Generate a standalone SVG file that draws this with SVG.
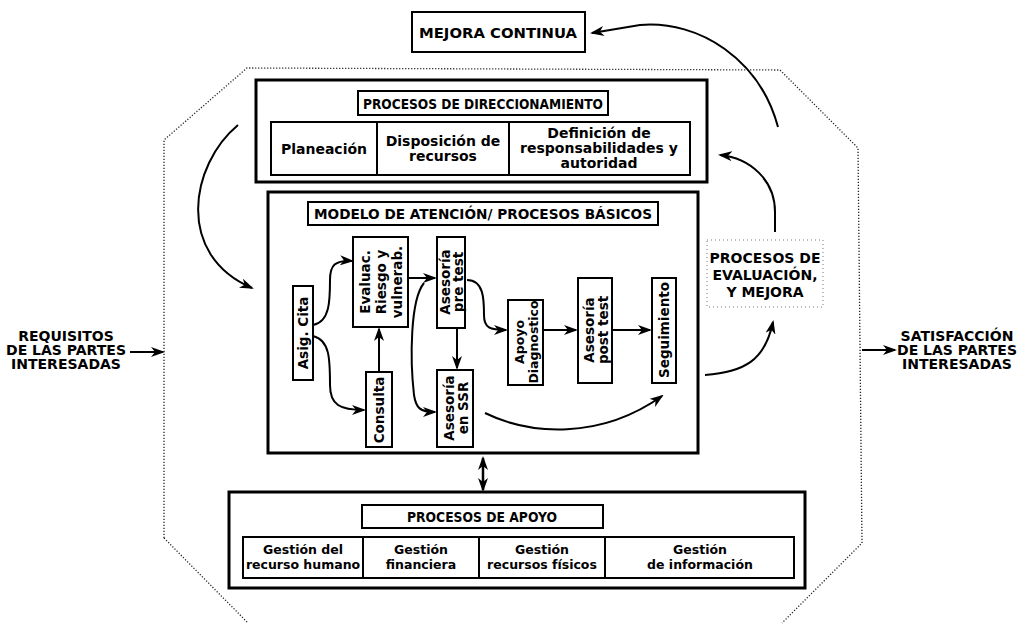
<svg xmlns="http://www.w3.org/2000/svg" width="1023" height="624" viewBox="0 0 1023 624">
<defs>
<marker id="ah" markerWidth="14" markerHeight="10" refX="12" refY="5" orient="auto" markerUnits="userSpaceOnUse">
<path d="M0,0 L14,5 L0,10 L4,5 z" fill="#000"/>
</marker>
<marker id="ahs" markerWidth="14" markerHeight="10" refX="2" refY="5" orient="auto" markerUnits="userSpaceOnUse">
<path d="M14,0 L0,5 L14,10 L10,5 z" fill="#000"/>
</marker>
<style>
text{font-family:"DejaVu Sans",Verdana,sans-serif;font-weight:bold;fill:#000;}
.t13{font-size:12.5px;}
.t14{font-size:14px;}
.tv{font-size:13.5px;}
.tvs{font-size:12.5px;}
.mid{text-anchor:middle;}
.box{fill:#fff;stroke:#000;stroke-width:2;}
.obox{fill:#fff;stroke:#000;stroke-width:3;}
.con{fill:none;stroke:#000;stroke-width:2;marker-end:url(#ah);}
.dot{fill:none;stroke:#222;stroke-width:1.3;stroke-dasharray:1.2 1.8;}
</style>
</defs>
<rect width="1023" height="624" fill="#fff"/>

<g id="boundary">
<path class="dot" d="M164,538 L164,140 L247,68 L780,70 L858,148 L862,543 L782,623"/>
<path class="dot" d="M164,538 L248,623"/>
</g>

<g id="mejora">
<rect class="box" x="412" y="12" width="173" height="40"/>
<text class="mid" x="498" y="38" font-size="14" textLength="158" lengthAdjust="spacingAndGlyphs">MEJORA CONTINUA</text>
</g>

<g id="direccionamiento">
<rect class="obox" x="256" y="80" width="451" height="102"/>
<rect class="box" x="358" y="91" width="250" height="24"/>
<text class="mid" x="483" y="109" font-size="14" textLength="240" lengthAdjust="spacingAndGlyphs">PROCESOS DE DIRECCIONAMIENTO</text>
<rect class="box" x="271" y="122" width="106" height="53"/>
<rect class="box" x="377" y="122" width="132" height="53"/>
<rect class="box" x="509" y="122" width="181" height="53"/>
<text class="mid t14" x="324" y="154">Planeación</text>
<text class="mid t14" x="443" y="146">Disposición de</text>
<text class="mid t14" x="443" y="161">recursos</text>
<text class="mid t14" x="599" y="138">Definición de</text>
<text class="mid t14" x="599" y="153">responsabilidades y</text>
<text class="mid t14" x="599" y="168">autoridad</text>
</g>

<g id="modelo">
<rect class="obox" x="268" y="192" width="430" height="261"/>
<rect class="box" x="308" y="202" width="350" height="23"/>
<text class="mid" x="483" y="219" font-size="13.5" textLength="338" lengthAdjust="spacingAndGlyphs">MODELO DE ATENCIÓN/ PROCESOS BÁSICOS</text>
</g>

<g id="asig">
<rect class="box" x="293" y="286" width="20" height="94"/>
<text class="mid tv" transform="translate(308,333) rotate(-90)">Asig. Cita</text>
</g>
<g id="evaluac">
<rect class="box" x="353" y="237" width="55" height="90"/>
<text class="mid tv" transform="translate(370,282) rotate(-90)">Evaluac.</text>
<text class="mid tv" transform="translate(386,282) rotate(-90)">Riesgo y</text>
<text class="mid tv" transform="translate(402,282) rotate(-90)">vulnerab.</text>
</g>
<g id="consulta">
<rect class="box" x="366" y="372" width="26" height="75"/>
<text class="mid tv" transform="translate(384,410) rotate(-90)">Consulta</text>
</g>
<g id="pretest">
<rect class="box" x="437" y="237" width="28" height="91"/>
<text class="mid tv" transform="translate(450,282) rotate(-90)">Asesoría</text>
<text class="mid tv" transform="translate(463,282) rotate(-90)">pre test</text>
</g>
<g id="ssr">
<rect class="box" x="437" y="370" width="36" height="77"/>
<text class="mid tv" transform="translate(454,408) rotate(-90)">Asesoría</text>
<text class="mid tv" transform="translate(468,408) rotate(-90)">en SSR</text>
</g>
<g id="apoyodiag">
<rect class="box" x="508" y="300" width="35" height="85"/>
<text class="mid tvs" transform="translate(524,342) rotate(-90)">Apoyo</text>
<text class="mid tvs" transform="translate(538,342) rotate(-90)">Diagnostico</text>
</g>
<g id="posttest">
<rect class="box" x="578" y="278" width="34" height="105"/>
<text class="mid tv" transform="translate(594,330) rotate(-90)">Asesoría</text>
<text class="mid tv" transform="translate(608,330) rotate(-90)">post test</text>
</g>
<g id="seguimiento">
<rect class="box" x="652" y="278" width="24" height="105"/>
<text class="mid tv" transform="translate(669,330) rotate(-90)">Seguimiento</text>
</g>

<g id="apoyo">
<rect class="obox" x="229" y="492" width="576" height="96"/>
<rect class="box" x="362" y="505" width="241" height="23"/>
<text class="mid" x="482" y="522" font-size="13.5" textLength="150" lengthAdjust="spacingAndGlyphs">PROCESOS DE APOYO</text>
<rect class="box" x="243" y="537" width="120" height="41"/>
<rect class="box" x="363" y="537" width="116" height="41"/>
<rect class="box" x="479" y="537" width="126" height="41"/>
<rect class="box" x="605" y="537" width="189" height="41"/>
<text class="mid t13" x="303" y="554">Gestión del</text>
<text class="mid t13" x="303" y="569">recurso humano</text>
<text class="mid t13" x="421" y="554">Gestión</text>
<text class="mid t13" x="421" y="569">financiera</text>
<text class="mid t13" x="542" y="554">Gestión</text>
<text class="mid t13" x="542" y="569">recursos físicos</text>
<text class="mid t13" x="700" y="554">Gestión</text>
<text class="mid t13" x="700" y="569">de información</text>
</g>

<g id="evaluacion">
<rect x="707" y="240" width="116" height="67" fill="#fff" stroke="#777" stroke-width="1" stroke-dasharray="1 3"/>
<text class="mid t14" x="765" y="263">PROCESOS DE</text>
<text class="mid t14" x="765" y="280">EVALUACIÓN,</text>
<text class="mid t14" x="765" y="297">Y MEJORA</text>
</g>

<g id="requisitos">
<text class="mid t14" x="66" y="341">REQUISITOS</text>
<text class="mid t14" x="66" y="355">DE LAS PARTES</text>
<text class="mid t14" x="66" y="369">INTERESADAS</text>
</g>
<g id="satisfaccion">
<text class="mid t14" x="957" y="341">SATISFACCIÓN</text>
<text class="mid t14" x="957" y="355">DE LAS PARTES</text>
<text class="mid t14" x="957" y="369">INTERESADAS</text>
</g>

<g id="connectors">
<path class="con" d="M130,352 L163,352"/>
<path class="con" d="M862,350 L895,350"/>
<path class="con" d="M238,125 C190,165 175,255 252,288"/>
<path class="con" d="M778,127 C760,60 700,20 640,25 L592,33"/>
<path class="con" d="M775,232 L775,212 C775,180 750,158 720,155"/>
<path class="con" d="M705,375 C745,372 765,360 773,322"/>
<path class="con" d="M313,325 C330,322 330,300 330,280 C330,265 335,260 352,261"/>
<path class="con" d="M313,336 C330,340 330,360 330,385 C330,405 340,410 364,410"/>
<path class="con" d="M379,372 L379,329"/>
<path class="con" d="M408,278 L435,278"/>
<path class="con" d="M424,283 C410,300 410,360 414,395 C416,408 420,412 435,412"/>
<path class="con" d="M457,328 L457,368"/>
<path class="con" d="M467,280 C484,280 484,300 484,315 C484,328 490,330 506,330"/>
<path class="con" d="M543,330 L576,330"/>
<path class="con" d="M612,330 L650,330"/>
<path class="con" d="M485,413 C530,435 600,440 662,396"/>
<path d="M483,458 L483,490" stroke="#000" stroke-width="2.5" marker-start="url(#ahs)" marker-end="url(#ah)" fill="none"/>
</g>
</svg>
